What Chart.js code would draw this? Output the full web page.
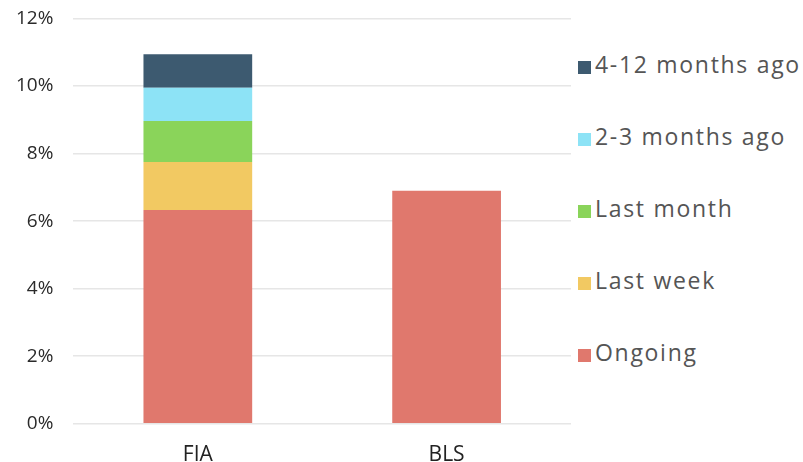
<!DOCTYPE html>
<html>
<head>
<meta charset="utf-8">
<script src="https://cdn.jsdelivr.net/npm/chart.js@4"></script>
<style>
  html, body { margin: 0; padding: 0; background: #fff; }
  #wrap { position: relative; width: 803px; height: 462px; overflow: hidden; }
  #box { position: absolute; left: -4px; top: -13px; width: 575px; height: 492px; }
  #legenda { position: absolute; left: 578px; top: 28px; margin: 0; padding: 0; list-style: none;
             font-family: 'Open Sans', sans-serif; font-size: 23px; color: #555; letter-spacing: 1.7px; }
  #legenda li { height: 72px; line-height: 72px; white-space: nowrap; }
  #legenda span.q { display: inline-block; width: 13px; height: 13px; margin-right: 4px; vertical-align: -1px; }
</style>
</head>
<body>
<div id="wrap">
  <div id="box"><canvas id="chart"></canvas></div>
  <ul id="legenda"></ul>
</div>
<script>
// dados
const categorias = ['FIA', 'BLS'];
const ongoing = [6.33, 6.9];
const lastWeek = [1.42, 0];
const lastMonth = [1.21, 0];
const twoThreeMonths = [0.99, 0];
const fourTwelveMonths = [0.99, 0];
const ticksY = [0, 2, 4, 6, 8, 10, 12];

const fonte = "'Open Sans', sans-serif";

const grafico = new Chart(document.getElementById('chart'), {
    type: 'bar',
    data: {
        labels: categorias,
        datasets: [
            { label: 'Ongoing', data: ongoing, backgroundColor: '#e0786d' },
            { label: 'Last week', data: lastWeek, backgroundColor: '#f2c962' },
            { label: 'Last month', data: lastMonth, backgroundColor: '#8ad45a' },
            { label: '2-3 months ago', data: twoThreeMonths, backgroundColor: '#8de3f6' },
            { label: '4-12 months ago', data: fourTwelveMonths, backgroundColor: '#3d5a70' }
        ]
    },
    options: {
        responsive: true,
        maintainAspectRatio: false,
        animation: false,
        layout: { padding: { top: 6, right: 0, bottom: 0, left: 0 } },
        datasets: { bar: { barPercentage: 0.437, categoryPercentage: 1.0 } },
        scales: {
            x: {
                stacked: true,
                grid: { display: false },
                border: { display: false },
                ticks: { color: '#222', font: { family: fonte, size: 21 }, padding: 11 }
            },
            y: {
                stacked: true,
                min: 0,
                max: 12,
                afterBuildTicks: s => { s.ticks = ticksY.map(v => ({ value: v })); },
                grid: { color: '#e6e6e6', lineWidth: 1.5, drawTicks: false },
                border: { display: false },
                ticks: {
                    color: '#2a2a2a',
                    font: { family: fonte, size: 19 },
                    padding: 20,
                    callback: v => v + '%'
                }
            }
        },
        plugins: {
            legend: { display: false },
            tooltip: { enabled: false }
        }
    }
});

// legenda em HTML, ordem invertida como no original
const ul = document.getElementById('legenda');
grafico.data.datasets.slice().reverse().forEach(ds => {
    const li = document.createElement('li');
    const q = document.createElement('span');
    q.className = 'q';
    q.style.background = ds.backgroundColor;
    li.appendChild(q);
    li.appendChild(document.createTextNode(ds.label));
    ul.appendChild(li);
});
</script>
</body>
</html>
